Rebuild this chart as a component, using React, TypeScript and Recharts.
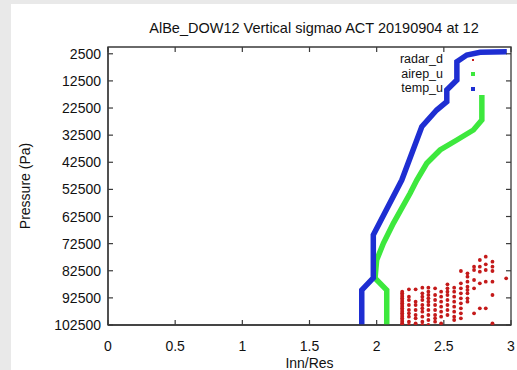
import { ComposedChart, Line, Scatter, XAxis, YAxis, ReferenceArea } from 'recharts';

// temp_u profile (x = Inn/Res, p = pressure in Pa)
const tempX = [1.889, 1.889, 1.975, 1.975, 2.187, 2.336, 2.447, 2.522, 2.522, 2.597, 2.597, 2.671, 2.77, 2.969];
const tempP = [102500, 89600, 85170, 69320, 49040, 29390, 23230, 20170, 15850, 12170, 5420, 2950, 1950, 1730];

// airep_u profile
const airepX = [2.075, 2.075, 1.988, 2.0, 2.05, 2.124, 2.249, 2.299, 2.373, 2.472, 2.597, 2.72, 2.783, 2.783];
const airepP = [102500, 89600, 85280, 78530, 72380, 65000, 53940, 49040, 42880, 37980, 34290, 30600, 26920, 17700];

// radar_d scatter, one pressure list per x column
const radarX = [2.19, 2.24, 2.29, 2.34, 2.385, 2.435, 2.48, 2.527, 2.577, 2.627, 2.676, 2.725, 2.768, 2.812, 2.862, 2.964];
const radarP = [
  [90210, 90820, 91440, 92050, 92660, 93280, 93890, 94510, 95120, 95740, 96350, 96970, 97580, 98200, 98810, 99420, 100040, 100650, 101270, 101880, 102500],
  [89350, 92050, 93280, 95120, 96970, 98200, 99420, 101270, 102500],
  [89350, 93890, 95120, 96970, 98810, 100040, 101880],
  [88730, 90820, 92050, 93280, 95120, 96350, 97580, 99420, 101270, 102500],
  [88730, 90210, 91440, 92660, 93890, 95120, 96970, 98810, 100650, 102500],
  [88980, 91440, 93280, 95120, 96970, 98810, 100040, 101270],
  [90210, 92050, 93890, 95740, 97580, 99420, 101880],
  [87500, 88980, 90210, 91440, 93280, 95120, 96970, 98810],
  [88730, 90210, 92050, 93890, 95740, 97580, 99420, 100650],
  [82590, 87130, 88980, 90820, 92660, 94510, 96350, 98200, 100040],
  [83450, 84680, 86520, 88360, 89590, 90820, 92660, 93890],
  [80990, 82220, 85900, 88980, 98200],
  [78530, 80990, 82830, 87130, 96350],
  [77300, 80130, 82220, 86520, 96350],
  [79150, 80990, 82590, 86520, 91440, 101880],
  [85290],
];

const xTicks = [0, 0.5, 1, 1.5, 2, 2.5, 3];
const yTicks = [2500, 12500, 22500, 32500, 42500, 52500, 62500, 72500, 82500, 92500, 102500];

const legendItems = [
  { name: 'radar_d', color: '#c81e1e', size: 2 },
  { name: 'airep_u', color: '#3de83d', size: 4 },
  { name: 'temp_u', color: '#1e2ed2', size: 4 },
];

const tempData = tempX.map((x, i) => ({ x, p: tempP[i] }));
const airepData = airepX.map((x, i) => ({ x, p: airepP[i] }));
const radarData = radarX.flatMap((x, i) => radarP[i].map((p) => ({ x, p })));

const FONT = '"Liberation Sans", Arial, Helvetica, sans-serif';
const AXIS = '#3a3a3a';
const PLOT_W = 403;
const PLOT_H = 278;
const X_MARGIN = 17;
const Y_MARGIN = 7;
const MARK = 5;

// bottom tick: label plus inward marks on bottom and top edges
const XTick = (props: any) => {
  const { x, y, payload } = props;
  const y0 = y - X_MARGIN;
  return (
    <g>
      <line x1={x} x2={x} y1={y0} y2={y0 - MARK} stroke={AXIS} strokeWidth={1.2} />
      <line x1={x} x2={x} y1={y0 - PLOT_H} y2={y0 - PLOT_H + MARK} stroke={AXIS} strokeWidth={1.2} />
      <text x={x} y={y} dy={9} textAnchor="middle" fill="#111" fontSize={14} fontFamily={FONT}>
        {payload.value}
      </text>
    </g>
  );
};

// left tick: label plus inward marks on left and right edges
const YTick = (props: any) => {
  const { x, y, payload } = props;
  const x0 = x + Y_MARGIN;
  return (
    <g>
      <line x1={x0} x2={x0 + MARK} y1={y} y2={y} stroke={AXIS} strokeWidth={1.2} />
      <line x1={x0 + PLOT_W} x2={x0 + PLOT_W - MARK} y1={y} y2={y} stroke={AXIS} strokeWidth={1.2} />
      <text x={x} y={y} dy={5} textAnchor="end" fill="#111" fontSize={14} fontFamily={FONT}>
        {payload.value}
      </text>
    </g>
  );
};

const RadarDot = (props: any) => <circle cx={props.cx} cy={props.cy} r={1.9} fill="#c41a1a" />;

export default function App() {
  return (
    <div style={{ position: 'absolute', left: 0, top: 0, width: 517, height: 370, background: '#e9e9e9', fontFamily: FONT }}>
      <div style={{ position: 'absolute', left: 11, top: 4, width: 506, height: 366, background: '#fff' }} />
      <ComposedChart
        width={517}
        height={370}
        margin={{ top: 47, right: 6, bottom: 0, left: 8 }}
        style={{ position: 'absolute', left: 0, top: 0 }}
      >
        <XAxis
          dataKey="x"
          type="number"
          domain={[0, 3]}
          ticks={xTicks}
          height={45}
          stroke={AXIS}
          strokeWidth={1.3}
          tickSize={0}
          tickLine={false}
          tickMargin={X_MARGIN}
          tick={<XTick />}
          allowDataOverflow
          label={{ value: 'Inn/Res', position: 'insideBottom', offset: 2, fill: '#111', fontSize: 14, fontFamily: FONT }}
        />
        <YAxis
          dataKey="p"
          type="number"
          domain={[0, 102500]}
          reversed
          ticks={yTicks}
          interval={0}
          width={100}
          stroke={AXIS}
          strokeWidth={1.3}
          tickSize={0}
          tickLine={false}
          tickMargin={Y_MARGIN}
          tick={<YTick />}
          allowDataOverflow
          label={{ value: 'Pressure (Pa)', angle: -90, position: 'insideLeft', offset: 17, fill: '#111', fontSize: 14, fontFamily: FONT, style: { textAnchor: 'middle' } }}
        />
        <ReferenceArea x1={0} x2={3} y1={0} y2={102500} fill="none" stroke={AXIS} strokeWidth={1.3} ifOverflow="visible" />
        <Scatter data={radarData} dataKey="p" shape={RadarDot} isAnimationActive={false} />
        <Line data={airepData} dataKey="p" type="linear" stroke="#3de83d" strokeWidth={5.5} dot={false} activeDot={false} isAnimationActive={false} />
        <Line data={tempData} dataKey="p" type="linear" stroke="#1e2ed2" strokeWidth={5.5} dot={false} activeDot={false} isAnimationActive={false} />
      </ComposedChart>
      <div style={{ position: 'absolute', left: 114, top: 20, width: 400, textAlign: 'center', fontSize: 14.5, lineHeight: '16px', color: '#111' }}>
        AlBe_DOW12 Vertical sigmao ACT 20190904 at 12
      </div>
      {legendItems.map((item, i) => (
        <div key={item.name}>
          <div style={{ position: 'absolute', right: 74, top: 52 + i * 14.5, fontSize: 12.5, lineHeight: '14.5px', color: '#111' }}>
            {item.name}
          </div>
          <div
            style={{
              position: 'absolute',
              left: 473 - item.size / 2,
              top: 59.5 + i * 14.5 - item.size / 2,
              width: item.size,
              height: item.size,
              background: item.color,
            }}
          />
        </div>
      ))}
    </div>
  );
}
